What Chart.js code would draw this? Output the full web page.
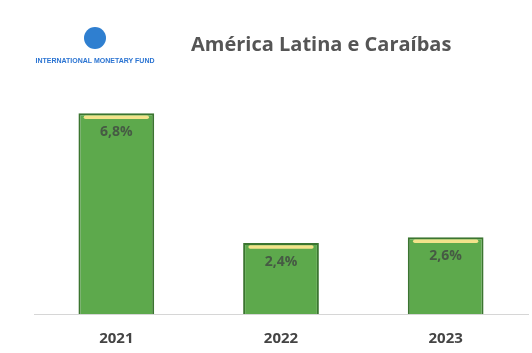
<!DOCTYPE html>
<html>
<head>
<meta charset="utf-8">
<script src="https://cdn.jsdelivr.net/npm/chart.js@4/dist/chart.umd.min.js"></script>
<style>
  html, body { margin: 0; padding: 0; background: #fff; }
  #wrap { position: relative; width: 532px; height: 353px; overflow: hidden; }
  #chart { position: absolute; left: 0; top: 0; }
  #logo { position: absolute; left: 28px; top: 27px; width: 134px; text-align: center; }
  #logo .globe { width: 22px; height: 22px; border-radius: 50%; background: #2f7fd0; margin: 0 auto; }
  #logo .name { font-family: "Liberation Sans", Arial, sans-serif; font-weight: bold; font-size: 7px; color: #2b74d2; margin-top: 8px; }
  #title { position: absolute; left: 191px; top: 30px; font-family: "Open Sans", "DejaVu Sans", sans-serif; font-weight: bold; font-size: 20px; color: #555; }
</style>
</head>
<body>
<div id="wrap">
  <canvas id="chart" width="532" height="353"></canvas>
  <div id="logo"><div class="globe"></div><div class="name">INTERNATIONAL MONETARY FUND</div></div>
  <div id="title">América Latina e Caraíbas</div>
</div>
<script>
// Data
const years = ["2021", "2022", "2023"];
const growth = [6.8, 2.4, 2.6];
const growthLabels = ["6,8%", "2,4%", "2,6%"];

// Yellow highlight + value labels on each bar
const barDecor = {
  id: "barDecor",
  afterDatasetsDraw(chart) {
    const ctx = chart.ctx;
    const meta = chart.getDatasetMeta(0);
    meta.data.forEach((bar, i) => {
      const half = bar.width / 2;
      ctx.save();
      ctx.strokeStyle = "#f3e38a";
      ctx.lineWidth = 3.5;
      ctx.lineCap = "round";
      ctx.beginPath();
      ctx.moveTo(bar.x - half + 7, bar.y + 4);
      ctx.lineTo(bar.x + half - 7, bar.y + 4);
      ctx.stroke();
      ctx.fillStyle = "#465a44";
      ctx.font = "bold 14px 'Open Sans', 'DejaVu Sans', sans-serif";
      ctx.textAlign = "center";
      ctx.textBaseline = "middle";
      ctx.fillText(growthLabels[i], bar.x, bar.y + 19);
      ctx.restore();
    });
  },
};

const ctx = document.getElementById("chart").getContext("2d");
new Chart(ctx, {
  type: "bar",
  data: {
    labels: years,
    datasets: [
      {
        data: growth,
        backgroundColor: "#5da94c",
        borderColor: "#3b7530",
        borderWidth: 2,
        categoryPercentage: 1,
        barPercentage: 0.46,
      },
    ],
  },
  options: {
    responsive: false,
    animation: false,
    layout: { padding: { left: 34, right: 4, top: 60, bottom: 0 } },
    plugins: { legend: { display: false }, tooltip: { enabled: false } },
    scales: {
      x: {
        grid: { display: false },
        border: { color: "#d6d6d6", width: 1 },
        afterFit: (axis) => { axis.height = 39; },
        ticks: {
          color: "#444",
          padding: 8,
          font: { family: "'Open Sans', 'DejaVu Sans', sans-serif", size: 15, weight: "bold" },
        },
      },
      y: {
        display: false,
        min: 0,
        max: 8.6,
      },
    },
  },
  plugins: [barDecor],
});
</script>
</body>
</html>
